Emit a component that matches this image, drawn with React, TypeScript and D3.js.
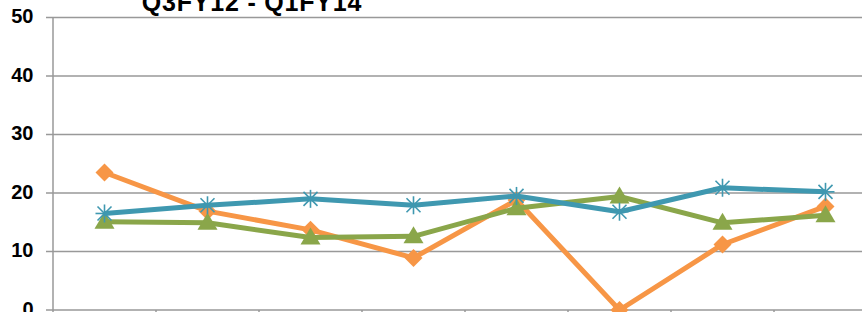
import React from "react";
import * as d3 from "d3";

const categories = ["Q3FY12", "Q4FY12", "Q1FY13", "Q2FY13", "Q3FY13", "Q4FY13", "Q1FY14", "Q2FY14"];
const orangeValues = [23.5, 16.9, 13.7, 8.9, 18.8, 0, 11.2, 17.7];
const greenValues = [15.1, 14.9, 12.4, 12.6, 17.4, 19.4, 14.9, 16.2];
const blueValues = [16.5, 17.9, 19.0, 17.9, 19.5, 16.8, 20.9, 20.2];
const yTicks = [0, 10, 20, 30, 40, 50];
const title = "Q3FY12 - Q1FY14";

const W = 862, H = 312;
const left = 53, right = 877, top = 17.5, bottom = 310;

export default function App() {
  const x = d3.scaleBand<string>().domain(categories).range([left, right]);
  const y = d3.scaleLinear().domain([0, 50]).range([bottom, top]);
  const cx = (c: string) => (x(c) as number) + x.bandwidth() / 2;
  const line = d3.line<[number, number]>().x(d => d[0]).y(d => d[1]);
  const pts = (vals: number[]) => vals.map((v, i) => [cx(categories[i]), y(v)] as [number, number]);

  const orange = "#F79646", green = "#8AA64A", blue = "#3F98B0";
  const grid = "#999999";

  return (
    <svg width={W} height={H} style={{ position: "absolute", left: 0, top: 0 }} fontFamily="'Liberation Sans', Arial, sans-serif">
      {yTicks.map(t => (
        <g key={t}>
          <line x1={left - 7} x2={W} y1={y(t)} y2={y(t)} stroke={grid} strokeWidth={1.5} />
          <text x={33.5} y={y(t)} dy="0.28em" textAnchor="end" fontSize={20} fontWeight="bold" fill="#000">{t}</text>
        </g>
      ))}
      <line x1={left} x2={left} y1={top} y2={H} stroke={grid} strokeWidth={1.5} />
      {categories.map((c, i) => (
        <line key={c} x1={(x(c) as number) + x.bandwidth()} x2={(x(c) as number) + x.bandwidth()} y1={bottom} y2={H} stroke={grid} strokeWidth={1.5} />
      ))}
      <text x={252} y={11} textAnchor="middle" fontSize={25} fontWeight="bold" letterSpacing={0.8} fill="#000">{title}</text>

      <path d={line(pts(orangeValues)) as string} fill="none" stroke={orange} strokeWidth={5} strokeLinejoin="round" />
      {pts(orangeValues).map(([px, py], i) => (
        <path key={"o" + i} d={`M${px},${py - 9}L${px + 9},${py}L${px},${py + 9}L${px - 9},${py}Z`} fill={orange} />
      ))}

      <path d={line(pts(greenValues)) as string} fill="none" stroke={green} strokeWidth={5} strokeLinejoin="round" />
      {pts(greenValues).map(([px, py], i) => (
        <path key={"g" + i} d={`M${px},${py - 10}L${px + 10},${py + 7}L${px - 10},${py + 7}Z`} fill={green} />
      ))}

      <path d={line(pts(blueValues)) as string} fill="none" stroke={blue} strokeWidth={5} strokeLinejoin="round" />
      {pts(blueValues).map(([px, py], i) => (
        <g key={"b" + i} stroke={blue} strokeWidth={1.6}>
          <line x1={px - 9} x2={px + 9} y1={py} y2={py} />
          <line x1={px} x2={px} y1={py - 9} y2={py + 9} />
          <line x1={px - 7} x2={px + 7} y1={py - 7} y2={py + 7} />
          <line x1={px - 7} x2={px + 7} y1={py + 7} y2={py - 7} />
        </g>
      ))}
    </svg>
  );
}
